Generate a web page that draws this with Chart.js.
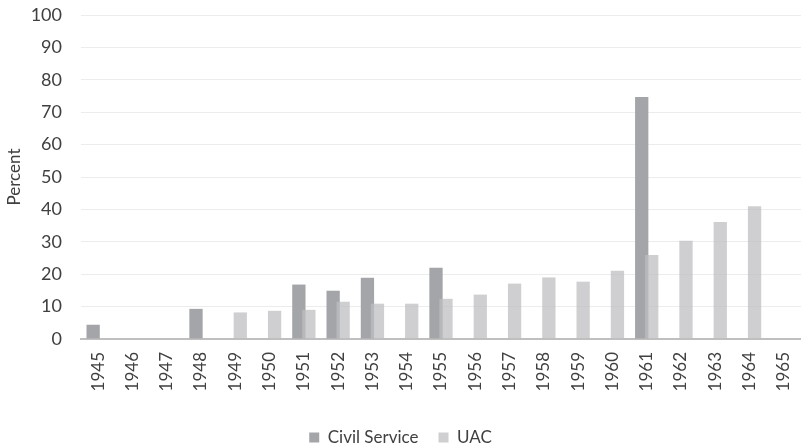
<!doctype html>
<html>
  <head>
    <meta charset="utf-8">
    <title>Civil Service and UAC</title>
    <style>
      html, body { margin: 0; padding: 0; background: #fff; }
      #wrap { width: 801px; height: 446px; }
    </style>
    <script src="https://cdn.jsdelivr.net/npm/chart.js@4/dist/chart.umd.min.js"></script>
  </head>
  <body>
    <div id="wrap"><canvas id="chart"></canvas></div>
    <script>
      const years = ["1945", "1946", "1947", "1948", "1949", "1950", "1951", "1952", "1953", "1954", "1955",
                     "1956", "1957", "1958", "1959", "1960", "1961", "1962", "1963", "1964", "1965"];
      const civilService = [4.4, null, null, 9.3, null, null, 16.8, 14.9, 18.9, null, 22.0,
                            null, null, null, null, null, 74.7, null, null, null, null];
      const uac = [null, null, null, null, 8.2, 8.7, 9.0, 11.5, 10.9, 10.9, 12.4,
                   13.7, 17.1, 19.0, 17.7, 21.1, 25.9, 30.3, 36.1, 41.0, null];
      const yTicks = [0, 10, 20, 30, 40, 50, 60, 70, 80, 90, 100];

      const textColor = "#404040";
      Chart.defaults.font.family = "Lato";
      Chart.defaults.font.size = 18;
      Chart.defaults.color = textColor;

      // legend sits lower than chart.js puts it
      const legendShift = {
        id: "legendShift",
        afterLayout(chart) {
          chart.legend.top += 10;
          chart.legend.bottom += 10;
        }
      };

      // draw civil service first so the UAC bars overlap it
      const uacOnTop = {
        id: "uacOnTop",
        beforeDatasetDraw(chart, args) {
          if (args.index === 0) return false;
          if (args.index === 1) chart.getDatasetMeta(0).controller.draw();
        }
      };

      new Chart(document.getElementById("chart"), {
        type: "bar",
        data: {
          labels: years,
          datasets: [{
            label: "Civil Service",
            data: civilService,
            backgroundColor: "#a4a5a9",
            categoryPercentage: 0.583,
            barPercentage: 1.33
          }, {
            label: "UAC",
            data: uac,
            backgroundColor: "rgba(190,190,193,0.74)",
            categoryPercentage: 0.583,
            barPercentage: 1.33
          }]
        },
        plugins: [legendShift, uacOnTop],
        options: {
          responsive: true,
          maintainAspectRatio: false,
          animation: false,
          layout: { padding: { top: 15, right: 0, left: 0, bottom: 0 } },
          plugins: {
            tooltip: { enabled: false },
            legend: {
              position: "bottom",
              labels: { boxWidth: 10, boxHeight: 10, padding: 20, font: { size: 17 } }
            }
          },
          scales: {
            x: {
              grid: { display: false, drawTicks: false },
              border: { color: "#bfbfbf", width: 2 },
              ticks: { minRotation: 90, maxRotation: 90, padding: 13, autoSkip: false, font: { size: 17 } },
              afterFit: function(scale) {
                scale.height = 60;
                scale.paddingLeft = 0;
                scale.paddingRight = 0;
              }
            },
            y: {
              min: 0,
              max: 100,
              afterBuildTicks: function(scale) {
                scale.ticks = yTicks.map(v => ({ value: v }));
              },
              afterFit: function(scale) {
                scale.width = 81;
                scale.paddingTop = 0;
                scale.paddingBottom = 0;
              },
              grid: { color: "#ececec", drawTicks: false },
              border: { display: false },
              ticks: { padding: 19 },
              title: { display: true, text: "Percent", font: { size: 17 }, padding: { top: 4, bottom: 0 } }
            }
          }
        }
      });
    </script>
  </body>
</html>
